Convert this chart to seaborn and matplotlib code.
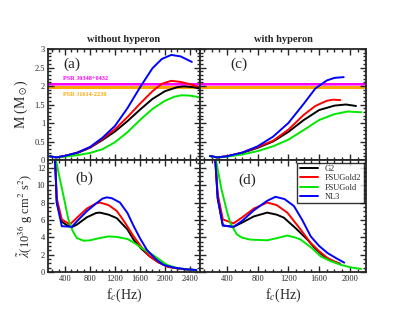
import matplotlib
matplotlib.use("Agg")
import matplotlib.pyplot as plt
import pandas as pd
import seaborn as sns
from matplotlib.ticker import MultipleLocator

# models and colours
models = ['G2', 'FSUGold2', 'FSUGold', 'NL3']
colors = ['black', 'red', '#00e600', 'blue']

# (a) M vs f_c, without hyperon
fc_a = {
    'G2': [160, 260, 400, 600, 800, 1000, 1200, 1400, 1600, 1800, 2000, 2200, 2300, 2450, 2560],
    'FSUGold2': [160, 260, 400, 600, 800, 1000, 1200, 1400, 1600, 1800, 1950, 2100, 2250, 2400, 2510],
    'FSUGold': [160, 260, 400, 600, 800, 1000, 1200, 1400, 1600, 1800, 2000, 2150, 2270, 2400, 2540],
    'NL3': [160, 260, 400, 600, 800, 1000, 1200, 1400, 1600, 1800, 1950, 2100, 2250, 2430],
}
m_a = {
    'G2': [0.10, 0.07, 0.11, 0.19, 0.33, 0.54, 0.77, 1.05, 1.36, 1.65, 1.86, 1.97, 1.99, 1.97, 1.93],
    'FSUGold2': [0.10, 0.07, 0.11, 0.20, 0.34, 0.57, 0.83, 1.16, 1.52, 1.86, 2.06, 2.14, 2.11, 2.05, 1.99],
    'FSUGold': [0.10, 0.07, 0.09, 0.13, 0.19, 0.29, 0.48, 0.75, 1.08, 1.38, 1.60, 1.71, 1.75, 1.74, 1.70],
    'NL3': [0.10, 0.07, 0.11, 0.20, 0.35, 0.60, 0.92, 1.40, 1.96, 2.48, 2.73, 2.84, 2.80, 2.65],
}

# (c) M vs f_c, with hyperon
fc_c = {
    'G2': [180, 270, 400, 600, 800, 1000, 1200, 1400, 1600, 1800, 1950, 2080],
    'FSUGold2': [180, 270, 400, 600, 800, 1000, 1200, 1400, 1550, 1700, 1780, 1875],
    'FSUGold': [180, 270, 400, 600, 800, 1000, 1200, 1400, 1600, 1800, 1970, 2150],
    'NL3': [180, 270, 400, 600, 800, 1000, 1200, 1400, 1550, 1700, 1800, 1920],
}
m_c = {
    'G2': [0.11, 0.07, 0.10, 0.19, 0.33, 0.50, 0.76, 1.08, 1.35, 1.47, 1.50, 1.46],
    'FSUGold2': [0.11, 0.07, 0.10, 0.20, 0.35, 0.52, 0.82, 1.22, 1.46, 1.60, 1.63, 1.62],
    'FSUGold': [0.11, 0.07, 0.09, 0.15, 0.24, 0.37, 0.55, 0.81, 1.08, 1.24, 1.31, 1.29],
    'NL3': [0.11, 0.07, 0.10, 0.20, 0.37, 0.63, 1.00, 1.52, 1.93, 2.15, 2.22, 2.24],
}

# (b) tidal deformability vs f_c, without hyperon
fc_b = {
    'G2': [240, 270, 350, 430, 510, 600, 750, 900, 960, 1100, 1230, 1400, 1500, 1620, 1760, 1900, 2050, 2250, 2450],
    'FSUGold2': [240, 270, 350, 480, 600, 750, 900, 960, 1100, 1230, 1350, 1500, 1620, 1760, 1900, 2050, 2250, 2450],
    'FSUGold': [240, 320, 400, 455, 520, 590, 700, 800, 950, 1100, 1230, 1400, 1500, 1620, 1760, 1900, 2030, 2200, 2350, 2500],
    'NL3': [240, 270, 350, 510, 600, 750, 900, 1000, 1070, 1150, 1280, 1400, 1500, 1600, 1710, 1850, 1975, 2150, 2350, 2500],
}
lam_b = {
    'G2': [13.5, 8.0, 5.8, 5.4, 5.15, 5.5, 6.3, 6.8, 6.84, 6.6, 6.2, 4.9, 3.7, 2.7, 1.78, 1.1, 0.6, 0.35, 0.25],
    'FSUGold2': [13.5, 8.5, 6.06, 5.48, 6.3, 7.3, 7.9, 8.0, 7.7, 7.03, 5.8, 4.1, 2.9, 1.78, 1.1, 0.6, 0.35, 0.25],
    'FSUGold': [13.5, 10.7, 8.0, 6.06, 4.8, 3.92, 3.6, 3.65, 3.9, 4.1, 4.04, 3.8, 3.4, 2.8, 2.18, 1.5, 0.82, 0.45, 0.3, 0.23],
    'NL3': [13.5, 8.0, 5.28, 5.2, 5.9, 7.0, 7.9, 8.45, 8.6, 8.5, 8.0, 6.8, 5.28, 3.9, 2.56, 1.5, 0.82, 0.5, 0.3, 0.23],
}

# (d) tidal deformability vs f_c, with hyperon
fc_d = {
    'G2': [245, 280, 347, 486, 600, 750, 924, 1050, 1141, 1300, 1448, 1550, 1665, 1780, 1875],
    'FSUGold2': [245, 280, 347, 486, 600, 750, 924, 1050, 1186, 1350, 1491, 1600, 1710, 1800, 1875],
    'FSUGold': [245, 330, 400, 443, 531, 600, 705, 924, 1050, 1186, 1280, 1360, 1500, 1623, 1750, 1884, 2000, 2146],
    'NL3': [245, 280, 347, 486, 600, 750, 924, 1032, 1150, 1272, 1380, 1491, 1600, 1710, 1820, 1927],
}
lam_d = {
    'G2': [13.5, 8.5, 5.36, 5.2, 5.7, 6.4, 6.84, 6.6, 6.26, 5.0, 3.73, 2.7, 1.78, 1.25, 0.93],
    'FSUGold2': [13.5, 9.0, 6.06, 5.6, 6.3, 7.3, 8.0, 7.7, 6.84, 5.0, 3.34, 2.4, 1.6, 1.2, 0.93],
    'FSUGold': [13.5, 9.5, 7.0, 5.67, 4.31, 3.95, 3.73, 3.65, 3.9, 4.2, 4.0, 3.73, 2.8, 1.78, 1.25, 0.82, 0.55, 0.35],
    'NL3': [13.5, 8.5, 5.36, 5.2, 5.9, 7.1, 8.2, 8.66, 8.4, 7.6, 6.0, 4.1, 3.0, 2.18, 1.6, 1.08],
}

# pulsar mass bands
psr_names = ['PSR J0348+0432', 'PSR J1614-2230']
psr_colors = ['#ff00ff', '#ffa500']
psr_bands = [(1.99, 2.07), (1.91, 1.99)]


def to_df(xs, ys):
    rows = []
    for m in models:
        for x, y in zip(xs[m], ys[m]):
            rows.append({'model': m, 'fc': x, 'val': y})
    return pd.DataFrame(rows)


sns.set_style('ticks')
plt.rcParams['font.family'] = ['Liberation Serif', 'DejaVu Serif']
plt.rcParams['mathtext.fontset'] = 'stix'

W, H = 415, 321
fig = plt.figure(figsize=(W / 100, H / 100), dpi=100)
ax_a = fig.add_axes([48 / W, 1 - 160 / H, 152 / W, 111 / H])
ax_c = fig.add_axes([200 / W, 1 - 160 / H, 166 / W, 111 / H])
ax_b = fig.add_axes([48 / W, 1 - 272 / H, 152 / W, 112 / H])
ax_d = fig.add_axes([200 / W, 1 - 272 / H, 166 / W, 112 / H])

palette = dict(zip(models, colors))
for ax, xs, ys in [(ax_a, fc_a, m_a), (ax_c, fc_c, m_c), (ax_b, fc_b, lam_b), (ax_d, fc_d, lam_d)]:
    sns.lineplot(data=to_df(xs, ys), x='fc', y='val', hue='model', hue_order=models,
                 palette=palette, sort=False, estimator=None, lw=1.4, ax=ax,
                 legend=(ax is ax_d))

# pulsar bands
for ax in [ax_a, ax_c]:
    for (lo, hi), c in zip(psr_bands, psr_colors):
        ax.axhspan(lo, hi, color=c, lw=0, zorder=0)
    ax.axhline(2.03, color='#ff9cff', lw=0.5, zorder=0)
ax_a.text(365, 2.21, psr_names[0], color=psr_colors[0], fontsize=4.5, fontweight='bold', va='center')
ax_a.text(365, 1.78, psr_names[1], color=psr_colors[1], fontsize=4.5, fontweight='bold', va='center')

# limits and ticks
for ax in [ax_a, ax_b]:
    ax.set_xlim(130, 2560)
for ax in [ax_c, ax_d]:
    ax.set_xlim(50, 2210)
for ax in [ax_a, ax_c]:
    ax.set_ylim(0, 3)
    ax.yaxis.set_major_locator(MultipleLocator(0.5))
    ax.yaxis.set_minor_locator(MultipleLocator(0.1))
for ax in [ax_b, ax_d]:
    ax.set_ylim(0, 12.9)
    ax.yaxis.set_major_locator(MultipleLocator(2))
    ax.yaxis.set_minor_locator(MultipleLocator(0.5))
for ax in [ax_a, ax_b, ax_c, ax_d]:
    ax.xaxis.set_major_locator(MultipleLocator(400))
    ax.xaxis.set_minor_locator(MultipleLocator(100))
    ax.tick_params(which='both', direction='in', top=True, right=True, labelsize=6, width=1, pad=2)
    ax.tick_params(which='major', length=4)
    ax.tick_params(which='minor', length=2)
    for s in ax.spines.values():
        s.set_linewidth(1.3)
    ax.set_xlabel('')
    ax.set_ylabel('')
ax_a.set_yticks([0, 0.5, 1, 1.5, 2, 2.5, 3])
ax_a.set_yticklabels(['0', '0.5', '1', '1.5', '2', '2.5', '3'])
ax_a.tick_params(labelbottom=False)
ax_c.tick_params(labelbottom=False, labelleft=False)
ax_d.tick_params(labelleft=False)

# panel letters
ax_a.text(0.1, 0.86, '(a)', transform=ax_a.transAxes, fontsize=11, va='center')
ax_c.text(0.18, 0.86, '(c)', transform=ax_c.transAxes, fontsize=11, va='center')
ax_b.text(0.18, 0.84, '(b)', transform=ax_b.transAxes, fontsize=11, va='center')
ax_d.text(0.23, 0.82, '(d)', transform=ax_d.transAxes, fontsize=11, va='center')

ax_a.set_title('without hyperon', fontsize=7.5, fontweight='bold', pad=5)
ax_c.set_title('with hyperon', fontsize=7.5, fontweight='bold', pad=5)
ax_a.set_ylabel(r'M (M$_\odot$)', fontsize=10, labelpad=3)
ax_b.set_ylabel(r'$\tilde{\lambda}$(10$^{36}$ g cm$^2$ s$^2$)', fontsize=9, labelpad=1)
ax_b.set_xlabel(r'f$_c$(Hz)', fontsize=10, labelpad=3)
ax_d.set_xlabel(r'f$_c$(Hz)', fontsize=10, labelpad=3)

leg = ax_d.legend(loc='upper right', fontsize=6, frameon=True, fancybox=False,
                  edgecolor='black', handlelength=2.2, borderaxespad=0.3,
                  labelspacing=0.15, borderpad=0.3)
leg.get_frame().set_linewidth(1.0)

fig.savefig('out.png', dpi=100)
